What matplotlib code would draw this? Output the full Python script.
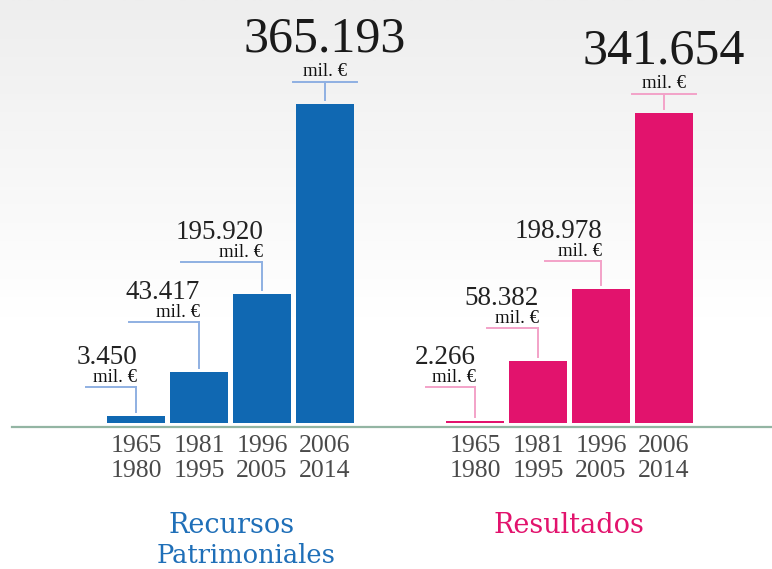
import numpy as np
import matplotlib
matplotlib.use("Agg")
import matplotlib.pyplot as plt
from matplotlib.colors import LinearSegmentedColormap

# data (values in thousands of euros, "mil. €")
periods = ["1965\n1980", "1981\n1995", "1996\n2005", "2006\n2014"]
recursos = [3450, 43417, 195920, 365193]
resultados = [2266, 58382, 198978, 341654]
# bar heights as drawn in the original (not proportional to the labels)
recursos_h = [7, 51, 129, 319]
resultados_h = [2.5, 62, 134, 310]

# layout
BLUE, PINK = "#1068b2", "#e2136d"
BLUE_L, PINK_L = "#8fb0e2", "#f3a2c8"
W, H = 772, 569
bar_w = 58
step = 63
x_blue = 136 + step * np.arange(4)
x_pink = 475 + step * np.arange(4)
lead_blue = [29, 50, 32, 22]     # hline height above bar top
lead_pink = [34, 33, 28, 19]
span_blue = [50, 70, 81, 64]     # hline length
span_pink = [49, 51, 56, 64]

NUM = "Liberation Serif"
TITLE = "DejaVu Serif"


def fmt(v):
    return f"{v:,}".replace(",", ".")


fig = plt.figure(figsize=(W / 100, H / 100), dpi=100)
ax = fig.add_axes([0, 0, 1, 1])
ax.set_xlim(0, W)
ax.set_ylim(-146, 423)
ax.axis("off")

# soft grey-to-white background
grad = np.linspace(0, 1, 256).reshape(-1, 1)
grad = np.clip(grad * 1.8 - 0.8, 0, 1)
cmap = LinearSegmentedColormap.from_list("bg", ["#ffffff", "#eeeeee"])
ax.imshow(grad, extent=[0, W, -146, 423], aspect="auto", cmap=cmap,
          origin="lower", zorder=0)

# baseline
ax.plot([12, W], [-4, -4], color="#93b5a3", lw=1.6, zorder=2)


def group(xs, heights, vals, color, lcolor, leads, spans):
    ax.bar(xs, heights, width=bar_w, color=color, zorder=3)
    for i, (x, h, v) in enumerate(zip(xs, heights, vals)):
        y = h + leads[i]
        ax.plot([x, x], [h + 4, y], color=lcolor, lw=1.4, zorder=3)
        if i < 3:
            ax.plot([x - spans[i], x], [y, y], color=lcolor, lw=1.4, zorder=3)
            ax.text(x + 1, y + 5, "mil. €", ha="right", va="baseline",
                    fontsize=13.5, family=NUM, color="#111111")
            ax.text(x + 1, y + 23, fmt(v), ha="right", va="baseline",
                    fontsize=19.5, family=NUM, color="#222222")
        else:
            ax.plot([x - spans[i] / 2, x + spans[i] / 2], [y, y],
                    color=lcolor, lw=1.4, zorder=3)
            ax.text(x, y + 6, "mil. €", ha="center", va="baseline",
                    fontsize=13.5, family=NUM, color="#111111")
            ax.text(x, y + 31, fmt(v), ha="center", va="baseline",
                    fontsize=36, family=NUM, color="#1a1a1a")
    for x, p in zip(xs, periods):
        top, bot = p.split("\n")
        ax.text(x, -29, top, ha="center", va="baseline", fontsize=18.5,
                family=NUM, color="#4a4a4a")
        ax.text(x, -54, bot, ha="center", va="baseline", fontsize=18.5,
                family=NUM, color="#4a4a4a")


group(x_blue, recursos_h, recursos, BLUE, BLUE_L, lead_blue, span_blue)
group(x_pink, resultados_h, resultados, PINK, PINK_L, lead_pink, span_pink)

ax.text(232, -110, "Recursos", ha="center", va="baseline", fontsize=19.5,
        family=TITLE, color="#1f6fb8")
ax.text(246, -140, "Patrimoniales", ha="center", va="baseline", fontsize=18.5,
        family=TITLE, color="#1f6fb8")
ax.text(569, -110, "Resultados", ha="center", va="baseline", fontsize=19.5,
        family=TITLE, color=PINK)

fig.savefig("out.png", dpi=100)
